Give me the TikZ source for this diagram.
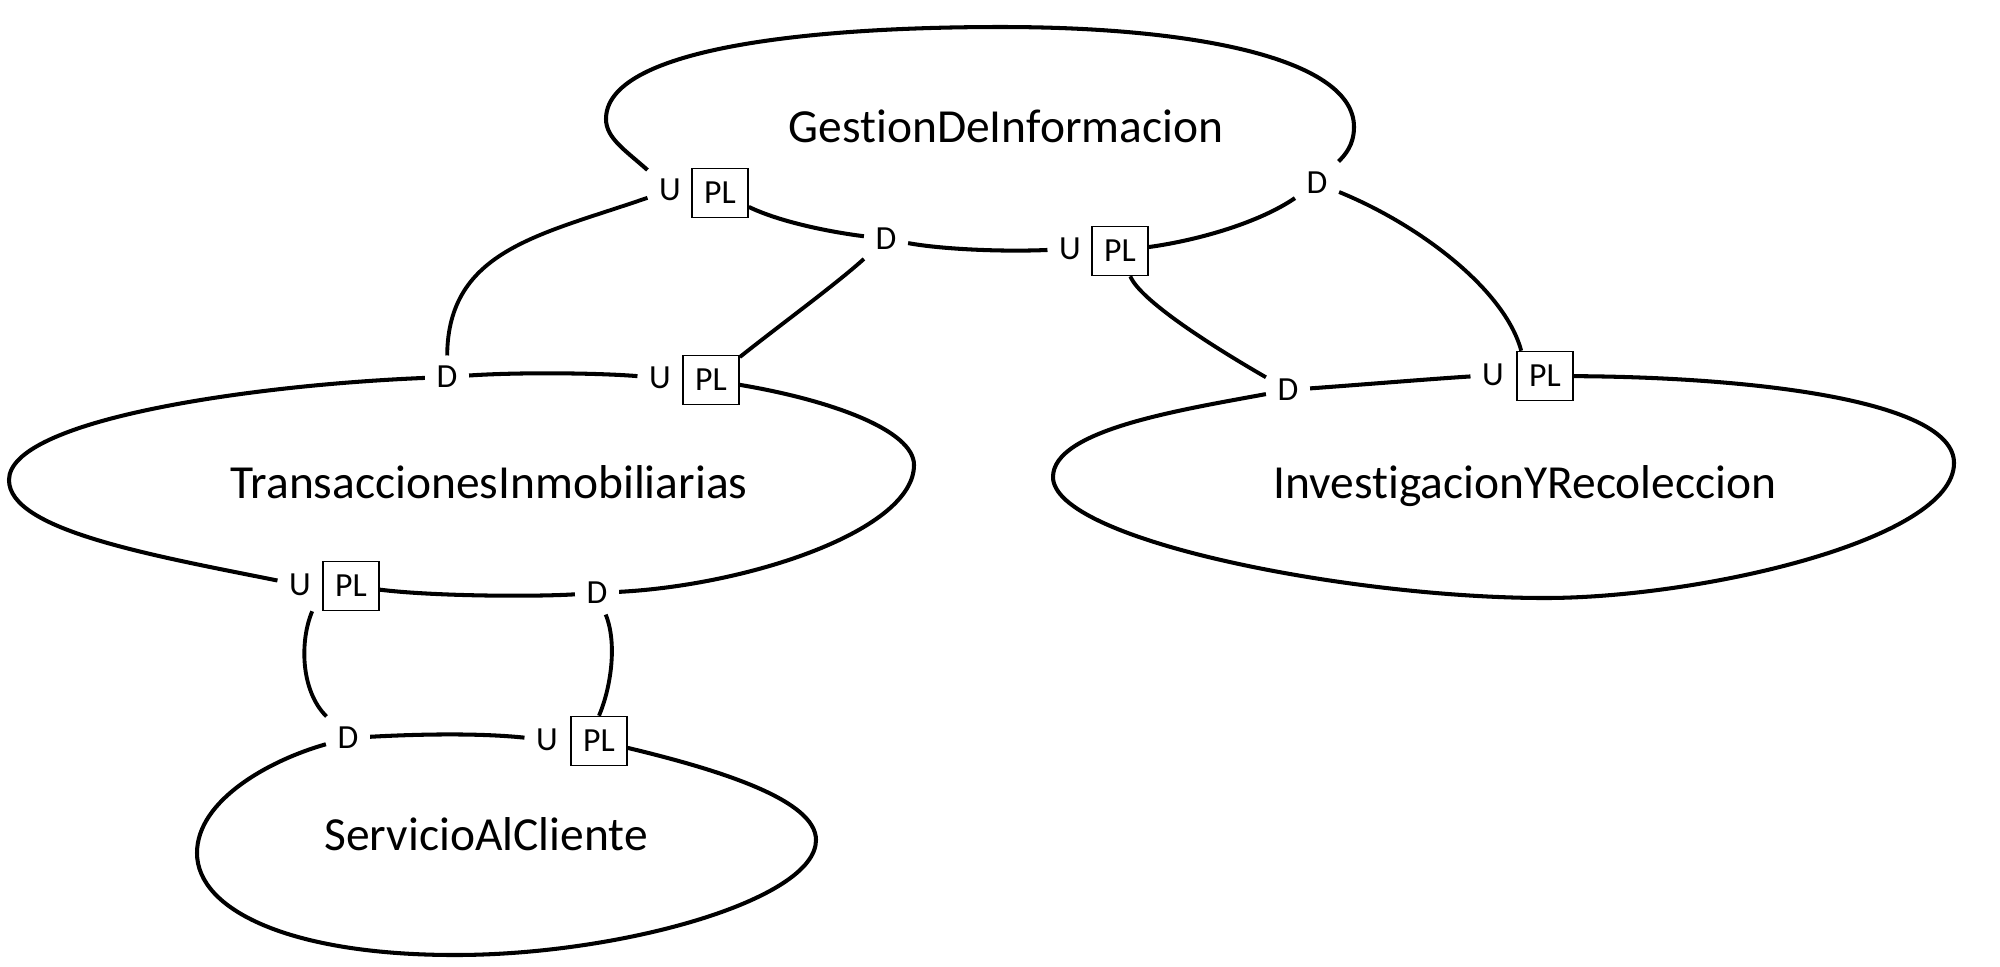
\documentclass[tikz,border=0pt]{standalone}
\usepackage{fontspec}
\setmainfont{Carlito}[Ligatures=NoCommon]
\begin{document}
\begin{tikzpicture}[x=0.01cm,y=-0.01cm]
\tikzset{
  blob/.style={line width=1.15pt},
  rel/.style={line width=1.1pt},
  ctxlabel/.style={font=\fontsize{13.5}{16}\selectfont, anchor=base, inner sep=0pt},
  udlbl/.style={font=\fontsize{9.6}{11}\selectfont, inner xsep=0.11cm, inner ysep=0.1cm},
  plbox/.style={draw, line width=0.45pt, fill=white, minimum width=0.56cm, minimum height=0.49cm, inner sep=0pt, font=\fontsize{9.6}{11}\selectfont}
}
\useasboundingbox (0,0) rectangle (2000,966);

% markers
\node[udlbl] (u1) at (670,190) {U};
\node[plbox] (pl1) at (720,193) {PL};
\node[udlbl] (d2) at (886,239) {D};
\node[udlbl] (u3) at (1070,249) {U};
\node[plbox] (pl3) at (1120,251) {PL};
\node[udlbl] (d4) at (1317,183) {D};
\node[udlbl] (d5) at (447,377) {D};
\node[udlbl] (u6) at (660,378) {U};
\node[plbox] (pl6) at (711,380) {PL};
\node[udlbl] (u7) at (300,585) {U};
\node[plbox] (pl7) at (351,586) {PL};
\node[udlbl] (d8) at (597,593) {D};
\node[udlbl] (d9) at (348,738) {D};
\node[udlbl] (u10) at (547,740) {U};
\node[plbox] (pl10) at (599,741) {PL};
\node[udlbl] (d12) at (1288,390) {D};
\node[udlbl] (u11) at (1493,375) {U};
\node[plbox] (pl11) at (1545,376) {PL};

% context labels
\node[ctxlabel] (gestion) at (1006,142) {GestionDeInformacion};
\node[ctxlabel] (trans) at (489,498) {TransaccionesInmobiliarias};
\node[ctxlabel] (serv) at (486,850) {ServicioAlCliente};
\node[ctxlabel] (inv) at (1525,498) {InvestigacionYRecoleccion};

% GestionDeInformacion outline
\draw[blob] (u1) .. controls (625,150) and (606,138) .. (606,119)
  .. controls (606,50) and (800,27) .. (1001,27)
  .. controls (1200,27) and (1354,60) .. (1354,127)
  .. controls (1354,145) and (1345,155) .. (d4);
\draw[blob] (d4) .. controls (1260,222) and (1200,240) .. (pl3);
\draw[blob] (u3) .. controls (1000,252) and (940,249) .. (d2);
\draw[blob] (d2) .. controls (830,232) and (780,222) .. (pl1);

% TransaccionesInmobiliarias outline
\draw[blob] (d5) .. controls (520,372) and (600,373) .. (u6);
\draw[blob] (pl6) .. controls (830,400) and (914,430) .. (914,465)
  .. controls (914,530) and (750,585) .. (d8);
\draw[blob] (d8) .. controls (530,597) and (430,596) .. (pl7);
\draw[blob] (u7) .. controls (150,555) and (9,530) .. (9,480)
  .. controls (9,420) and (250,385) .. (d5);

% ServicioAlCliente outline
\draw[blob] (d9) .. controls (420,734) and (480,733) .. (u10);
\draw[blob] (pl10) .. controls (720,770) and (816,800) .. (816,840)
  .. controls (816,900) and (620,955) .. (455,955)
  .. controls (290,955) and (197,910) .. (197,853)
  .. controls (197,800) and (270,760) .. (d9);

% InvestigacionYRecoleccion outline
\draw[blob] (d12) .. controls (1370,384) and (1430,379) .. (u11);
\draw[blob] (pl11) .. controls (1750,377) and (1954,400) .. (1954,463)
  .. controls (1954,540) and (1700,598) .. (1545,598)
  .. controls (1350,598) and (1053,540) .. (1053,477)
  .. controls (1053,430) and (1180,410) .. (d12);

% relationships
\draw[rel] (u1) .. controls (540,235) and (448,250) .. (d5);
\draw[rel] (pl6) .. controls (780,325) and (835,285) .. (d2);
\draw[rel] (pl3) .. controls (1140,300) and (1210,345) .. (d12);
\draw[rel] (d4) .. controls (1420,225) and (1505,290) .. ([xshift=0.05cm]pl11.north west);
\draw[rel] ([xshift=-0.1cm]pl7.south west) .. controls (300,640) and (300,690) .. (d9);
\draw[rel] (d8) .. controls (618,645) and (610,690) .. (pl10.north);
\end{tikzpicture}
\end{document}
